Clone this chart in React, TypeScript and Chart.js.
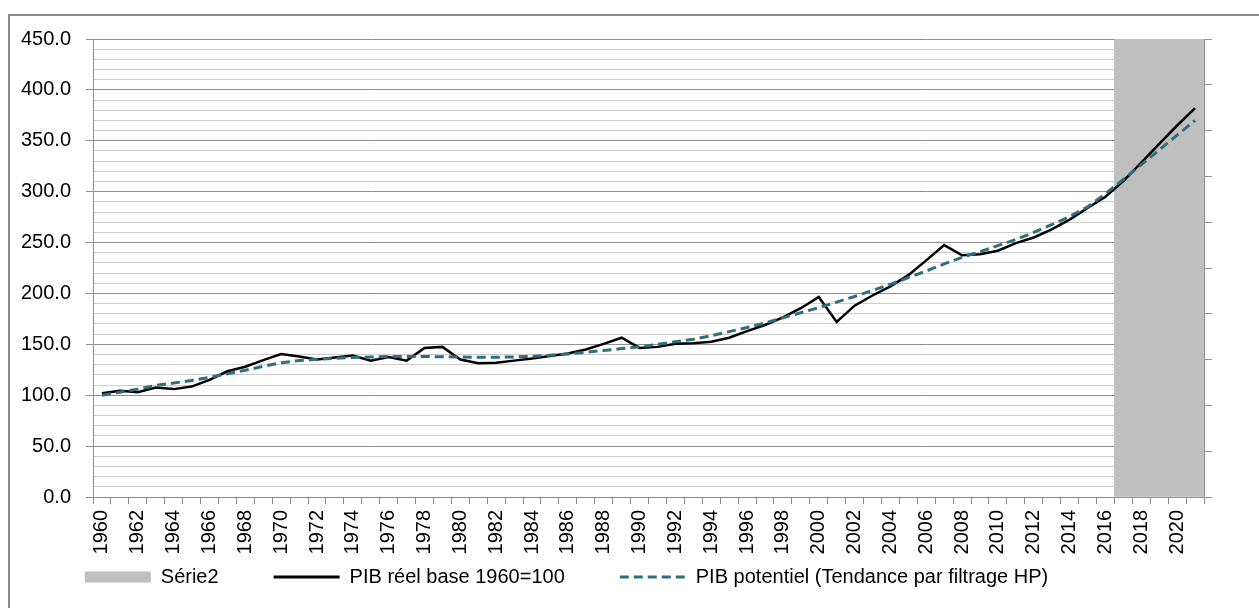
import React, { useEffect, useRef } from 'react';
import { Chart, registerables } from 'chart.js';

Chart.register(...registerables);

const FONT = "'Liberation Sans', Arial, sans-serif";

const years = [
  1960, 1961, 1962, 1963, 1964, 1965, 1966, 1967, 1968, 1969,
  1970, 1971, 1972, 1973, 1974, 1975, 1976, 1977, 1978, 1979,
  1980, 1981, 1982, 1983, 1984, 1985, 1986, 1987, 1988, 1989,
  1990, 1991, 1992, 1993, 1994, 1995, 1996, 1997, 1998, 1999,
  2000, 2001, 2002, 2003, 2004, 2005, 2006, 2007, 2008, 2009,
  2010, 2011, 2012, 2013, 2014, 2015, 2016, 2017, 2018, 2019,
  2020, 2021,
];

const pibReel = [
  102, 104.5, 103, 107.5, 106, 108.5, 115, 123.5, 128, 134.5,
  140.5, 138, 135, 137, 139, 134, 137.5, 134, 146.5, 147.5,
  135, 131.5, 132, 134, 136, 138.5, 141, 145, 150.5, 156.5,
  146.5, 147.5, 150.5, 151, 152.5, 156.5, 163, 169, 176.5, 185.5,
  196.5, 172, 188, 198, 207, 218, 232.5, 247.5, 237.5, 238.5,
  242, 249.5, 255, 263, 272.5, 284, 295, 310.5, 328.5, 347,
  365, 382,
];

const pibPotentiel = [
  100, 103, 106, 109.5, 112, 114.5, 117.5, 121, 124.5, 128.5,
  132, 134, 135.3, 136.3, 137, 137.5, 138, 138, 138, 137.8,
  137.5, 137.3, 137.3, 137.6, 138.3, 139.3, 140.6, 142.2, 144, 145.8,
  147.6, 150, 152.5, 155, 158.5, 162.5, 166.5, 171, 176, 181,
  186, 191.5, 197, 203, 209, 215.5, 222, 229, 235.5, 241,
  247, 253, 260, 267.5, 275.5, 285, 298, 312, 326.5, 341,
  355.5, 370,
];

const serie2Years = [2017, 2018, 2019, 2020, 2021];
const serie2Level = 1;

const seriesNames = [
  'Série2',
  'PIB réel base 1960=100',
  'PIB potentiel (Tendance par filtrage HP)',
];

const yMin = 0;
const yMax = 450;
const yMinorStep = 10;
const yMajorStep = 50;

export default function App() {
  const ref = useRef<HTMLCanvasElement | null>(null);

  useEffect(() => {
    const canvas = ref.current;
    if (!canvas) return;
    const serie2Data = years.map((y) => (serie2Years.includes(y) ? serie2Level : null));

    const chart = new Chart(canvas, {
      type: 'bar',
      data: {
        labels: years.map(String),
        datasets: [
          {
            type: 'line',
            label: seriesNames[1],
            data: pibReel,
            borderColor: '#000000',
            borderWidth: 2.5,
            pointRadius: 0,
            tension: 0,
            yAxisID: 'y',
            order: 1,
          } as any,
          {
            type: 'line',
            label: seriesNames[2],
            data: pibPotentiel,
            borderColor: '#2e6e7d',
            borderWidth: 3,
            borderDash: [9, 5],
            pointRadius: 0,
            tension: 0,
            yAxisID: 'y',
            order: 0,
          } as any,
          {
            type: 'bar',
            label: seriesNames[0],
            data: serie2Data,
            backgroundColor: '#bfbfbf',
            borderWidth: 0,
            categoryPercentage: 1,
            barPercentage: 1,
            yAxisID: 'y1',
            order: 2,
          } as any,
        ],
      },
      options: {
        responsive: false,
        devicePixelRatio: 1,
        animation: false,
        layout: { padding: { top: 39, left: 0, right: 0, bottom: -34 } },
        scales: {
          x: {
            type: 'category',
            offset: true,
            grid: {
              offset: true,
              drawOnChartArea: false,
              drawTicks: true,
              tickLength: 7,
              color: '#8c8c8c',
              tickColor: '#8c8c8c',
            },
            border: { display: true, color: '#8c8c8c' },
            ticks: {
              autoSkip: false,
              maxRotation: 90,
              minRotation: 90,
              padding: 6,
              color: '#000',
              font: { size: 20, family: FONT },
              callback: (_v: any, i: number) => (i % 2 === 0 ? String(years[i]) : ''),
            },
            afterFit: (s: any) => {
              s.height = 60;
            },
          },
          y: {
            position: 'left',
            min: yMin,
            max: yMax,
            ticks: {
              stepSize: yMinorStep,
              autoSkip: false,
              padding: 15,
              color: '#000',
              font: { size: 20, family: FONT },
              callback: (v: any) => (Number(v) % yMajorStep === 0 ? Number(v).toFixed(1) : ''),
            },
            grid: {
              color: (c: any) => (c.tick && c.tick.value % yMajorStep === 0 ? '#8f8f8f' : '#cdcdcd'),
              tickColor: (c: any) =>
                c.tick && c.tick.value % yMajorStep === 0 ? '#8f8f8f' : 'rgba(0,0,0,0)',
              tickLength: 7,
              lineWidth: 1,
            },
            border: { display: true, color: '#8f8f8f' },
            afterFit: (s: any) => {
              s.width = 93;
            },
          },
          y1: {
            position: 'right',
            min: 0,
            max: 1,
            ticks: { stepSize: 0.1, display: false },
            grid: {
              drawOnChartArea: false,
              tickLength: 8,
              color: '#8f8f8f',
              tickColor: '#8f8f8f',
            },
            border: { display: true, color: '#8f8f8f' },
            afterFit: (s: any) => {
              s.width = 55;
            },
          },
        },
        plugins: {
          tooltip: { enabled: false },
          title: { display: false },
          legend: {
            position: 'bottom',
            labels: {
              usePointStyle: true,
              pointStyleWidth: 66,
              boxHeight: 11,
              padding: 55,
              color: '#000',
              font: { size: 20, family: FONT },
              generateLabels: () => [
                {
                  text: seriesNames[0],
                  fillStyle: '#bfbfbf',
                  strokeStyle: '#bfbfbf',
                  lineWidth: 0,
                  pointStyle: 'rect',
                  fontColor: '#000',
                  hidden: false,
                  datasetIndex: 2,
                },
                {
                  text: seriesNames[1],
                  fillStyle: '#000',
                  strokeStyle: '#000',
                  lineWidth: 3,
                  lineDash: [],
                  pointStyle: 'line',
                  fontColor: '#000',
                  hidden: false,
                  datasetIndex: 0,
                },
                {
                  text: seriesNames[2],
                  fillStyle: '#2e6e7d',
                  strokeStyle: '#2e6e7d',
                  lineWidth: 3,
                  lineDash: [9, 5],
                  pointStyle: 'line',
                  fontColor: '#000',
                  hidden: false,
                  datasetIndex: 1,
                },
              ] as any,
            },
          },
        },
      } as any,
      plugins: [
        {
          id: 'legendPlacement',
          afterLayout(c: any) {
            const lg = c.legend;
            if (lg) {
              // item centre sits at legend.top + padding + fontSize / 2
              const dy = 577 - (lg.top + 55 + 10);
              lg.top += dy;
              lg.bottom += dy;
              lg.left -= 63;
              lg.right -= 63;
            }
          },
        },
      ],
    });
    return () => chart.destroy();
  }, []);

  return (
    <div
      style={{
        position: 'absolute',
        left: 0,
        top: 0,
        width: 1259,
        height: 608,
        overflow: 'hidden',
        background: '#ffffff',
      }}
    >
      <div
        style={{
          position: 'absolute',
          left: 8,
          top: 14,
          width: 1400,
          height: 800,
          border: '2px solid #8a8a8a',
          boxSizing: 'border-box',
        }}
      />
      <canvas
        ref={ref}
        width={1259}
        height={608}
        style={{ position: 'absolute', left: 0, top: 0, width: 1259, height: 608 }}
      />
    </div>
  );
}
